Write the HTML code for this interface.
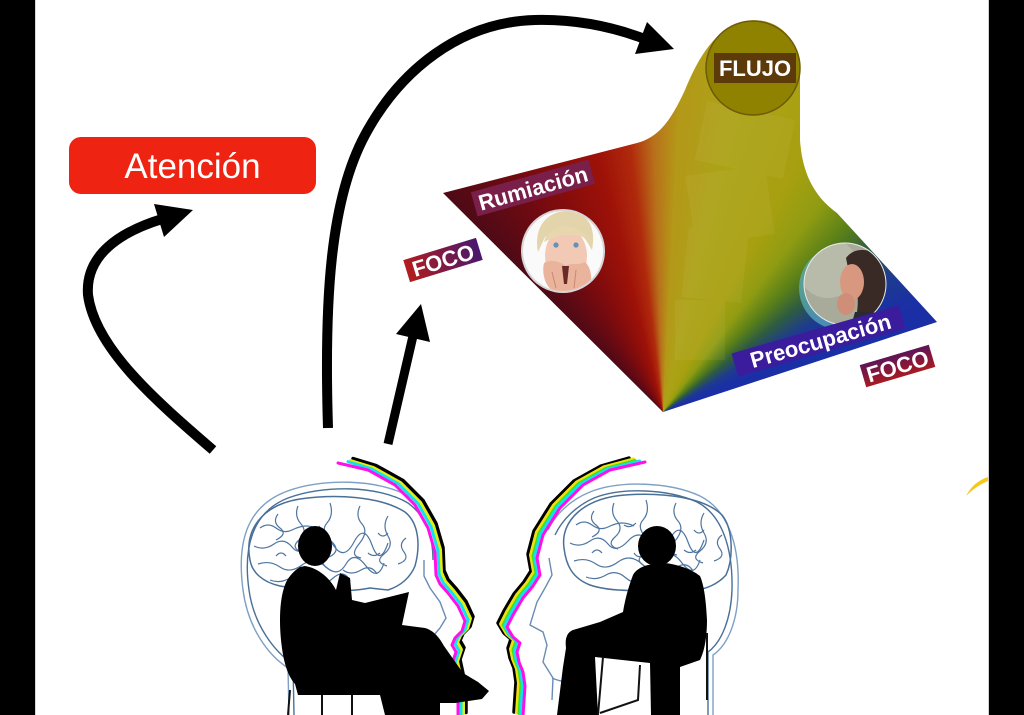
<!DOCTYPE html>
<html>
<head>
<meta charset="utf-8">
<style>
  html,body{margin:0;padding:0;}
  body{width:1024px;height:715px;overflow:hidden;background:#fff;position:relative;font-family:"Liberation Sans",sans-serif;}
  .bar{position:absolute;top:0;height:715px;background:#000;}
  #shape{position:absolute;left:0;top:0;width:1024px;height:715px;
    clip-path:path("M443,193 L637,143 C660,137 672,118 685,90 C697,62 712,30 745,21 C775,16 798,35 800,70 L800,140 C802,170 812,195 837,213 L937,322 L663,412 Z");
    background:conic-gradient(from -60deg at 663px 412px,#3a0610 0deg,#4e0a16 15deg,#6a0a12 25deg,#840c0c 35deg,#9e1208 46deg,#b02a0c 53deg,#b8701a 58deg,#b49818 63deg,#aca218 72deg,#a8a010 88deg,#909c12 97deg,#5a8018 105deg,#2e5c40 112deg,#1e3c8c 119deg,#1a30a4 126deg,#1a2aa8 140deg,#1a2aa8 360deg);}
  svg{position:absolute;left:0;top:0;}
</style>
</head>
<body>
<div class="bar" style="left:0;width:35px;"></div>
<div style="position:absolute;left:35px;top:0;width:1px;height:715px;background:#d8d8d8;"></div>
<div class="bar" style="left:989px;width:35px;"></div>
<div style="position:absolute;left:988px;top:0;width:1px;height:715px;background:#d0d0d0;"></div>

<div id="shape"></div>

<svg width="1024" height="715" viewBox="0 0 1024 715" xmlns="http://www.w3.org/2000/svg">
  <defs>
    <linearGradient id="focoL" x1="0" y1="0" x2="1" y2="0">
      <stop offset="0" stop-color="#b41c1c"/>
      <stop offset="1" stop-color="#48186e"/>
    </linearGradient>
    <linearGradient id="focoR" x1="0" y1="0" x2="0" y2="1">
      <stop offset="0" stop-color="#5e1458"/>
      <stop offset="1" stop-color="#a81a22"/>
    </linearGradient>
    <clipPath id="c1"><circle cx="563" cy="251" r="40"/></clipPath>
    <clipPath id="c2"><circle cx="845" cy="284" r="41"/></clipPath>
  </defs>

  <!-- peak pale patches -->
  <g fill="#e8e0a0" opacity="0.07">
    <rect x="700" y="110" width="90" height="60" transform="rotate(12 745 140)"/>
    <rect x="690" y="170" width="80" height="70" transform="rotate(-8 730 205)"/>
    <rect x="685" y="230" width="60" height="70" transform="rotate(6 715 265)"/>
    <rect x="675" y="300" width="50" height="60"/>
  </g>

  <!-- FLUJO circle -->
  <circle cx="753" cy="68" r="47" fill="#8e8200" stroke="#6e5a08" stroke-width="1.5"/>
  <rect x="714" y="53" width="82" height="30" fill="#5c3a0a"/>
  <text x="755" y="76" font-family="Liberation Sans, sans-serif" font-weight="bold" font-size="22" fill="#fff" text-anchor="middle">FLUJO</text>

  <!-- Woman 1 -->
  <circle cx="563" cy="251" r="42" fill="#d6d6d6"/>
  <circle cx="563" cy="251" r="40" fill="#fafafa"/>
  <g clip-path="url(#c1)">
    <path d="M538,252 C533,224 550,211 567,211 C586,211 597,226 592,250 L586,240 C578,230 558,229 545,237 Z" fill="#e4d4ac"/>
    <ellipse cx="566" cy="256" rx="21" ry="28" fill="#f2c9b4"/>
    <path d="M544,242 C548,224 576,220 590,240 C578,233 560,233 544,242 Z" fill="#e8d6ae"/>
    <circle cx="556" cy="245" r="2.6" fill="#5f92bc"/>
    <circle cx="576" cy="245" r="2.6" fill="#5f92bc"/>
    <path d="M544,263 C541,276 547,292 560,294 L586,294 C594,283 592,268 585,262 C577,266 571,262 566,266 C559,261 551,259 544,263 Z" fill="#eab49c"/>
    <path d="M562,266 L569,266 L567,284 L564,284 Z" fill="#6a2a2a"/>
    <path d="M552,272 L556,288 M576,270 L574,288" stroke="#c88870" stroke-width="1"/>
  </g>

  <!-- Woman 2 -->
  <circle cx="841" cy="288" r="42" fill="#5fb0c0" opacity="0.7"/>
  <circle cx="845" cy="284" r="41" fill="#a8ab9a"/>
  <g clip-path="url(#c2)">
    <circle cx="828" cy="268" r="30" fill="#bfc2b0" opacity="0.7"/>
    <path d="M846,258 C856,244 880,248 887,270 L888,330 L852,330 C862,305 858,282 848,268 Z" fill="#3a2a26"/>
    <ellipse cx="852" cy="282" rx="12" ry="18" fill="#d89880"/>
    <ellipse cx="846" cy="304" rx="9" ry="11" fill="#cf8e78"/>
    <path d="M855,312 L890,312 L890,330 L850,330 Z" fill="#2a2a30"/>
  </g>
  <circle cx="845" cy="284" r="41" fill="none" stroke="#e8ecea" stroke-width="1"/>

  <!-- Labels -->
  <g transform="translate(533,188) rotate(-15.5)">
    <rect x="-61" y="-12.5" width="122" height="25" fill="#7a1f4a"/>
    <text x="0" y="8" font-family="Liberation Sans, sans-serif" font-weight="bold" font-size="22" fill="#fff" text-anchor="middle">Rumiación</text>
  </g>
  <g transform="translate(818.5,341) rotate(-16)">
    <rect x="-87" y="-12" width="174" height="24" fill="#3b1c9c"/>
    <text x="2" y="8" font-family="Liberation Sans, sans-serif" font-weight="bold" font-size="22" fill="#fff" text-anchor="middle">Preocupación</text>
  </g>
  <g transform="translate(443,260) rotate(-17)">
    <rect x="-38" y="-11.5" width="76" height="23" fill="url(#focoL)"/>
    <text x="0" y="8" font-family="Liberation Sans, sans-serif" font-weight="bold" font-size="22" fill="#fff" text-anchor="middle">FOCO</text>
  </g>
  <g transform="translate(897.5,366) rotate(-16.4)">
    <rect x="-36" y="-11.5" width="72" height="23" fill="url(#focoR)"/>
    <text x="0" y="8" font-family="Liberation Sans, sans-serif" font-weight="bold" font-size="22" fill="#fff" text-anchor="middle">FOCO</text>
  </g>

  <!-- Atención -->
  <rect x="69" y="137" width="247" height="57" rx="12" ry="12" fill="#ee2312"/>
  <text x="192.5" y="178" font-family="Liberation Sans, sans-serif" font-size="35" fill="#fff" text-anchor="middle">Atención</text>

  <!-- Arrows -->
  <g fill="none" stroke="#000" stroke-width="10">
    <path d="M213,450 C155,400 95,348 88,295 C85,255 120,232 162,219"/>
    <path d="M328,428 C324,300 330,200 365,135 C400,70 460,22 535,20 C580,19 615,28 642,38"/>
  </g>
  <path d="M388,444 L413,336" stroke="#000" stroke-width="9" fill="none"/>
  <polygon points="193,210 154,204 164,237" fill="#000"/>
  <polygon points="674,49 647,22 635,54" fill="#000"/>
  <polygon points="421,304 396,334 430,342" fill="#000"/>

  <!-- yellow crescent -->
  <path d="M966,496 Q973,482 988,477 L988,481 Q976,486 966,496 Z" fill="#f6c81e"/>

  <!-- Head outlines -->
  <g fill="none" stroke-width="1.4">
    <path d="M289,715 L288,668 C268,655 248,628 243,590 C237,545 245,508 285,492 C320,478 380,478 412,498 C432,512 440,535 440,560" stroke="#7ea0c4"/>
    <path d="M294,715 L293,664 C275,652 254,626 249,590 C243,548 252,512 288,498 C322,485 378,485 408,503 C426,516 433,537 433,560" stroke="#4a7098"/>
    <path d="M424,560 L424,576 L430,588 L440,602 L446,618 L440,628 L434,635 L438,645 L434,660 L440,672 L432,690" stroke="#6a8cb4"/>
    <path d="M395,660 C410,672 425,676 440,672" stroke="#6a8cb4"/>
    <path d="M713,715 L713,655 C728,645 738,620 738,590 C740,545 728,510 700,496 C670,482 620,480 590,492 C570,500 555,515 548,530" stroke="#7ea0c4"/>
    <path d="M708,715 L708,652 C722,642 731,618 732,590 C733,548 722,515 697,502 C668,489 622,487 594,498 C576,506 562,520 555,535" stroke="#4a7098"/>
    <path d="M549,558 L552,575 L545,588 L537,602 L530,625 L543,632 L547,645 L543,662 L553,678 L552,700" stroke="#6a8cb4"/>
    <path d="M552,678 C565,684 575,682 588,674" stroke="#6a8cb4"/>
  </g>

  <!-- Brains -->
  <g fill="none" stroke="#4a7098" stroke-width="1.5">
    <path d="M250,560 C244,530 262,505 300,499 C335,494 380,496 405,512 C420,524 420,548 415,566 C410,578 400,586 388,590 L370,588 C350,592 310,592 280,586 C262,582 252,572 250,560 Z"/>
    <path d="M564,548 C560,520 585,498 625,495 C665,492 705,498 722,515 C734,530 733,560 726,575 C718,584 705,590 693,590 L675,587 C650,592 610,592 590,585 C572,578 566,565 564,548 Z"/>
  </g>
  <g fill="none" stroke="#4f76a0" stroke-width="1.2">
    <g transform="translate(248,498)">
      <path d="M12,30 q8,-6 16,0 t16,2 t14,-4 t12,3"/>
      <path d="M6,48 q10,5 20,-2 t18,3 t20,-3 t22,2 t20,-4 t18,3 t16,-2"/>
      <path d="M10,66 q12,-4 22,3 t22,-2 t24,2 t20,-3 t20,2 t18,-3"/>
      <path d="M22,82 q10,4 20,-2 t20,3 t22,-2 t18,2"/>
      <path d="M50,8 q-4,10 3,18 t-2,16 t3,12"/>
      <path d="M82,5 q4,12 -3,20 t4,18 t-2,16 t3,14"/>
      <path d="M112,8 q-5,10 2,18 t-3,20 t2,14"/>
      <path d="M140,18 q-6,10 0,20 t-4,18 t3,12"/>
      <path d="M30,16 q-6,8 2,14 t-4,12"/>
      <path d="M158,40 q-8,6 -2,14 t-6,12"/>
      <path d="M95,72 q8,6 18,0 t16,4"/>
      <path d="M60,30 q6,4 12,-2 M120,55 q6,5 12,0 M28,58 q5,-6 10,0 M130,35 q5,6 10,0 M70,58 q4,6 10,2"/>
    </g>
    <g transform="translate(564,495)">
      <path d="M12,30 q8,-6 16,0 t16,2 t14,-4 t12,3"/>
      <path d="M6,48 q10,5 20,-2 t18,3 t20,-3 t22,2 t20,-4 t18,3 t16,-2"/>
      <path d="M10,66 q12,-4 22,3 t22,-2 t24,2 t20,-3 t20,2 t18,-3"/>
      <path d="M22,82 q10,4 20,-2 t20,3 t22,-2 t18,2"/>
      <path d="M50,8 q-4,10 3,18 t-2,16 t3,12"/>
      <path d="M82,5 q4,12 -3,20 t4,18 t-2,16 t3,14"/>
      <path d="M112,8 q-5,10 2,18 t-3,20 t2,14"/>
      <path d="M140,18 q-6,10 0,20 t-4,18 t3,12"/>
      <path d="M30,16 q-6,8 2,14 t-4,12"/>
      <path d="M158,40 q-8,6 -2,14 t-6,12"/>
      <path d="M95,72 q8,6 18,0 t16,4"/>
      <path d="M60,30 q6,4 12,-2 M120,55 q6,5 12,0 M28,58 q5,-6 10,0 M130,35 q5,6 10,0 M70,58 q4,6 10,2"/>
    </g>
  </g>

  <!-- Rainbow profiles -->
  <g fill="none" stroke-width="3" stroke-linejoin="round" stroke-linecap="round">
    <g>
      <polyline transform="translate(8,-3.5)" stroke="#000" stroke-width="3.5" points="345,462 368,469 395,484 415,504 428,527 435,551 436,574 440,583 448,592 458,605 465,620 462,630 455,637 452,644 456,651 452,663 455,677 458,697 458,716"/>
      <polyline transform="translate(5.5,-2.5)" stroke="#e6ec10" points="345,463 368,470 395,485 415,505 428,528 435,552 436,575 440,584 448,593 458,606 465,621 462,631 455,638 452,645 456,652 452,664 455,678 458,698 458,716"/>
      <polyline transform="translate(3,-1.3)" stroke="#10e0f0" points="345,463 368,470 395,485 415,505 428,528 435,552 436,575 440,584 448,593 458,606 465,621 462,631 455,638 452,645 456,652 452,664 455,678 458,698 458,716"/>
      <polyline stroke="#ff10e8" points="338,463 368,470 395,485 415,505 428,528 435,552 436,575 440,584 448,593 458,606 465,621 462,631 455,638 452,645 456,652 452,664 455,678 458,698 458,716"/>
    </g>
    <g>
      <polyline transform="translate(-9,-4)" stroke="#000" stroke-width="3.5" points="638,462 610,470 583,485 560,508 543,535 537,558 540,575 533,586 523,598 513,615 507,627 513,637 520,643 517,652 519,662 523,672 525,686 523,716"/>
      <polyline transform="translate(-6.5,-3)" stroke="#f0e010" points="640,462 610,470 583,485 560,508 543,535 537,558 540,575 533,586 523,598 513,615 507,627 513,637 520,643 517,652 519,662 523,672 525,686 523,716"/>
      <polyline transform="translate(-4.5,-2)" stroke="#40e020" stroke-width="2" points="640,462 610,470 583,485 560,508 543,535 537,558 540,575 533,586 523,598 513,615 507,627 513,637 520,643 517,652 519,662 523,672 525,686 523,716"/>
      <polyline transform="translate(-2.5,-1)" stroke="#10e0f0" points="642,462 610,470 583,485 560,508 543,535 537,558 540,575 533,586 523,598 513,615 507,627 513,637 520,643 517,652 519,662 523,672 525,686 523,716"/>
      <polyline stroke="#ff10e8" points="645,462 610,470 583,485 560,508 543,535 537,558 540,575 533,586 523,598 513,615 507,627 513,637 520,643 517,652 519,662 523,672 525,686 523,716"/>
    </g>
  </g>

  <!-- Silhouettes -->
  <g fill="#000">
    <ellipse cx="315" cy="546" rx="17" ry="20"/>
    <path d="M300,567 C292,572 286,580 284,588 C280,600 279,620 281,640 C283,660 287,675 295,684 L298,695 L380,695 L385,715 L440,715 L440,703 L455,703 L482,699 L489,691 L478,682 L463,673 L444,646 C438,635 432,630 425,628 L402,625 L409,592 L365,603 L352,600 L350,578 L340,573 L336,590 C330,578 318,568 305,566 Z"/>
    <ellipse cx="657" cy="546" rx="19" ry="20"/>
    <path d="M648,565 C640,567 635,571 633,575 C628,588 625,600 623,612 L600,622 L573,630 C566,633 565,640 566,648 L563,667 L557,715 L598,715 L595,657 L650,663 L651,715 L680,715 L680,667 L700,660 C705,650 707,635 707,620 C706,600 704,585 700,576 C690,568 675,564 665,563 Z"/>
  </g>
  <g stroke="#111" stroke-width="2" fill="none">
    <path d="M290,690 L288,715 M322,695 L322,715 M352,695 L352,715"/>
    <path d="M603,657 L598,715 M640,665 L638,700 L600,713 M707,633 L707,700"/>
  </g>
</svg>
</body>
</html>
